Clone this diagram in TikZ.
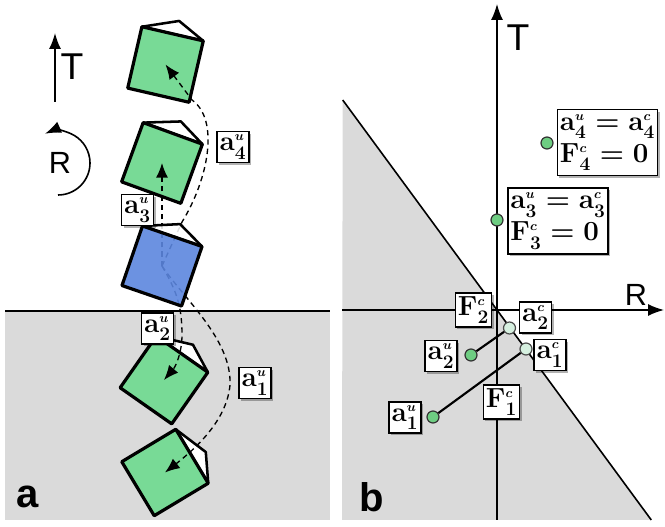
\documentclass[tikz,border=0pt]{standalone}
\usepackage{fontspec}
\newfontfamily\sansf{Liberation Sans}
\usetikzlibrary{arrows.meta}
\definecolor{sqgreen}{RGB}{120,218,150}
\definecolor{sqblue}{RGB}{92,134,222}
\definecolor{bggray}{RGB}{218,218,218}
\definecolor{ptgreen}{RGB}{110,205,130}
\definecolor{ptpale}{RGB}{214,240,224}
\newcommand{\blocksq}[4]{%
  \begin{scope}[shift={(#1,#2)},rotate=#3]
    \filldraw[roofst] (-31.5,-31.5) -- (3.5,-45.5) -- (31.5,-31.5) -- cycle;
    \filldraw[sqst,#4] (-31.5,-31.5) rectangle (31.5,31.5);
  \end{scope}}
\newcommand{\vu}[2]{\mathbf{#1}_{#2}^{\scriptscriptstyle u}}
\newcommand{\vc}[2]{\mathbf{#1}_{#2}^{\scriptscriptstyle c}}
\begin{document}
\begin{tikzpicture}[x=0.75pt,y=-0.75pt,
  roofst/.style={draw=black,fill=white,line width=1.9pt,line join=round},
  sqst/.style={draw=black,line width=2.4pt,line join=round},
  dsh/.style={dash pattern=on 4pt off 3pt,line width=1pt,-{Latex[length=11pt,width=9pt]}},
  ax/.style={line width=1.1pt,-{Latex[length=12pt,width=9pt]}},
  lbl/.style={draw=black,line width=1.1pt,fill=white,inner xsep=2pt,inner ysep=2.5pt,
    minimum height=22pt,minimum width=21pt,
    font=\fontsize{20}{24}\selectfont\boldmath,
    preaction={fill=black,opacity=0.3,transform canvas={xshift=1.6pt,yshift=-1.6pt}}},
  ptg/.style={circle,draw=black!80,line width=0.9pt,fill=ptgreen,minimum size=9pt,inner sep=0pt},
  ptp/.style={circle,draw=black!70,line width=0.9pt,fill=ptpale,minimum size=9pt,inner sep=0pt},
  axlbl/.style={font=\sansf\fontsize{28}{30}\selectfont,inner sep=0pt},
  rlbl/.style={font=\sansf\fontsize{23}{25}\selectfont,inner sep=0pt},
  panlbl/.style={font=\sansf\bfseries\fontsize{30}{32}\selectfont,inner sep=0pt}]
\useasboundingbox (0,0) rectangle (665,527);
% ---------------- panel a ----------------
\fill[bggray] (5,311) rectangle (330,520);
\draw[line width=1.5pt] (5,311) -- (330,311);
% legend
\coordinate (tA) at (55,102);
\coordinate (tB) at (55,33);
\draw[ax,line width=1.2pt] (tA) -- (tB);
\node[axlbl] (Ta) at (72,67) {T};
\node[rlbl] (Ra) at (60,163) {R};
\draw[line width=1.2pt,-{Latex[length=12pt,width=9pt]}] (58,195) arc[start angle=-90,end angle=114,radius=24pt];
% squares
\coordinate (c1) at (165,472.5);
\coordinate (c2) at (164,380);
\coordinate (cb) at (162,266);
\coordinate (c3) at (162,163);
\coordinate (c4) at (165.5,64.5);
\blocksq{165}{472.5}{-59}{fill=sqgreen}
\blocksq{164}{380}{-35}{fill=sqgreen}
\blocksq{162}{163}{-20}{fill=sqgreen}
\blocksq{165.5}{64.5}{-13}{fill=sqgreen}
% trajectories
\draw[dsh] (cb) -- (182,222) .. controls (208,180) and (220,120) .. (192,100) -- (c4);
\draw[dsh] (cb) -- (c3);
\draw[dsh] (cb) .. controls (176,290) and (182,305) .. (182,335) .. controls (182,352) and (176,366) .. (c2);
\draw[dsh] (cb) .. controls (185,300) and (232,340) .. (230,385) .. controls (227,418) and (200,445) .. (c1);
% current (blue) block
\begin{scope}[shift={(162,266)},rotate=-19]
  \filldraw[roofst,fill opacity=0.88] (-31.5,-31.5) -- (3.5,-45.5) -- (31.5,-31.5) -- cycle;
  \filldraw[sqst,fill=sqblue,fill opacity=0.9] (-31.5,-31.5) rectangle (31.5,31.5);
\end{scope}
% labels
\node[lbl] (la4) at (233,147) {$\vu{a}{4}$};
\node[lbl] (la3) at (137.5,210) {$\vu{a}{3}$};
\node[lbl] (la2) at (157.5,328.5) {$\vu{a}{2}$};
\node[lbl] (la1) at (255,383) {$\vu{a}{1}$};
\node[panlbl] (pa) at (28,497) {a};
% ---------------- panel b ----------------
\fill[bggray] (342.7,100) -- (651.3,520) -- (342,520) -- cycle;
\draw[line width=1.2pt] (342.7,100) -- (651.3,520);
\coordinate (vB) at (497,520);
\coordinate (vT) at (497,4);
\coordinate (hL) at (342,310);
\coordinate (hR) at (664,310);
\draw[ax] (vB) -- (vT);
\draw[ax] (hL) -- (hR);
\node[axlbl] (Tb) at (518,38) {T};
\node[rlbl] (Rb) at (636,295) {R};
\node[panlbl] (pb) at (372,497) {b};
% points
\node[ptg] (p4) at (547,143) {};
\node[ptg] (p3) at (497,220) {};
\node[ptp] (p2c) at (509.5,328) {};
\node[ptp] (p1c) at (526,349) {};
\node[ptg] (p2u) at (471,355) {};
\node[ptg] (p1u) at (433,417) {};
\draw[line width=1.6pt] (p2u) -- (p2c);
\draw[line width=1.6pt] (p1u) -- (p1c);
% labels
\node[lbl,align=left,inner ysep=3.5pt] (b4) at (607.5,142.5) {$\vu{a}{4}=\vc{a}{4}$\\$\vc{F}{4}=\mathbf{0}$};
\node[lbl,align=left,inner ysep=3.5pt] (b3) at (558,221) {$\vu{a}{3}=\vc{a}{3}$\\$\vc{F}{3}=\mathbf{0}$};
\node[lbl] (bF2) at (473.5,310) {$\vc{F}{2}$};
\node[lbl] (ba2c) at (535.5,317.5) {$\vc{a}{2}$};
\node[lbl] (ba1c) at (550,355) {$\vc{a}{1}$};
\node[lbl] (ba2u) at (441,356) {$\vu{a}{2}$};
\node[lbl] (ba1u) at (405,417.5) {$\vu{a}{1}$};
\node[lbl] (bF1) at (501.5,402) {$\vc{F}{1}$};
\end{tikzpicture}
\end{document}
